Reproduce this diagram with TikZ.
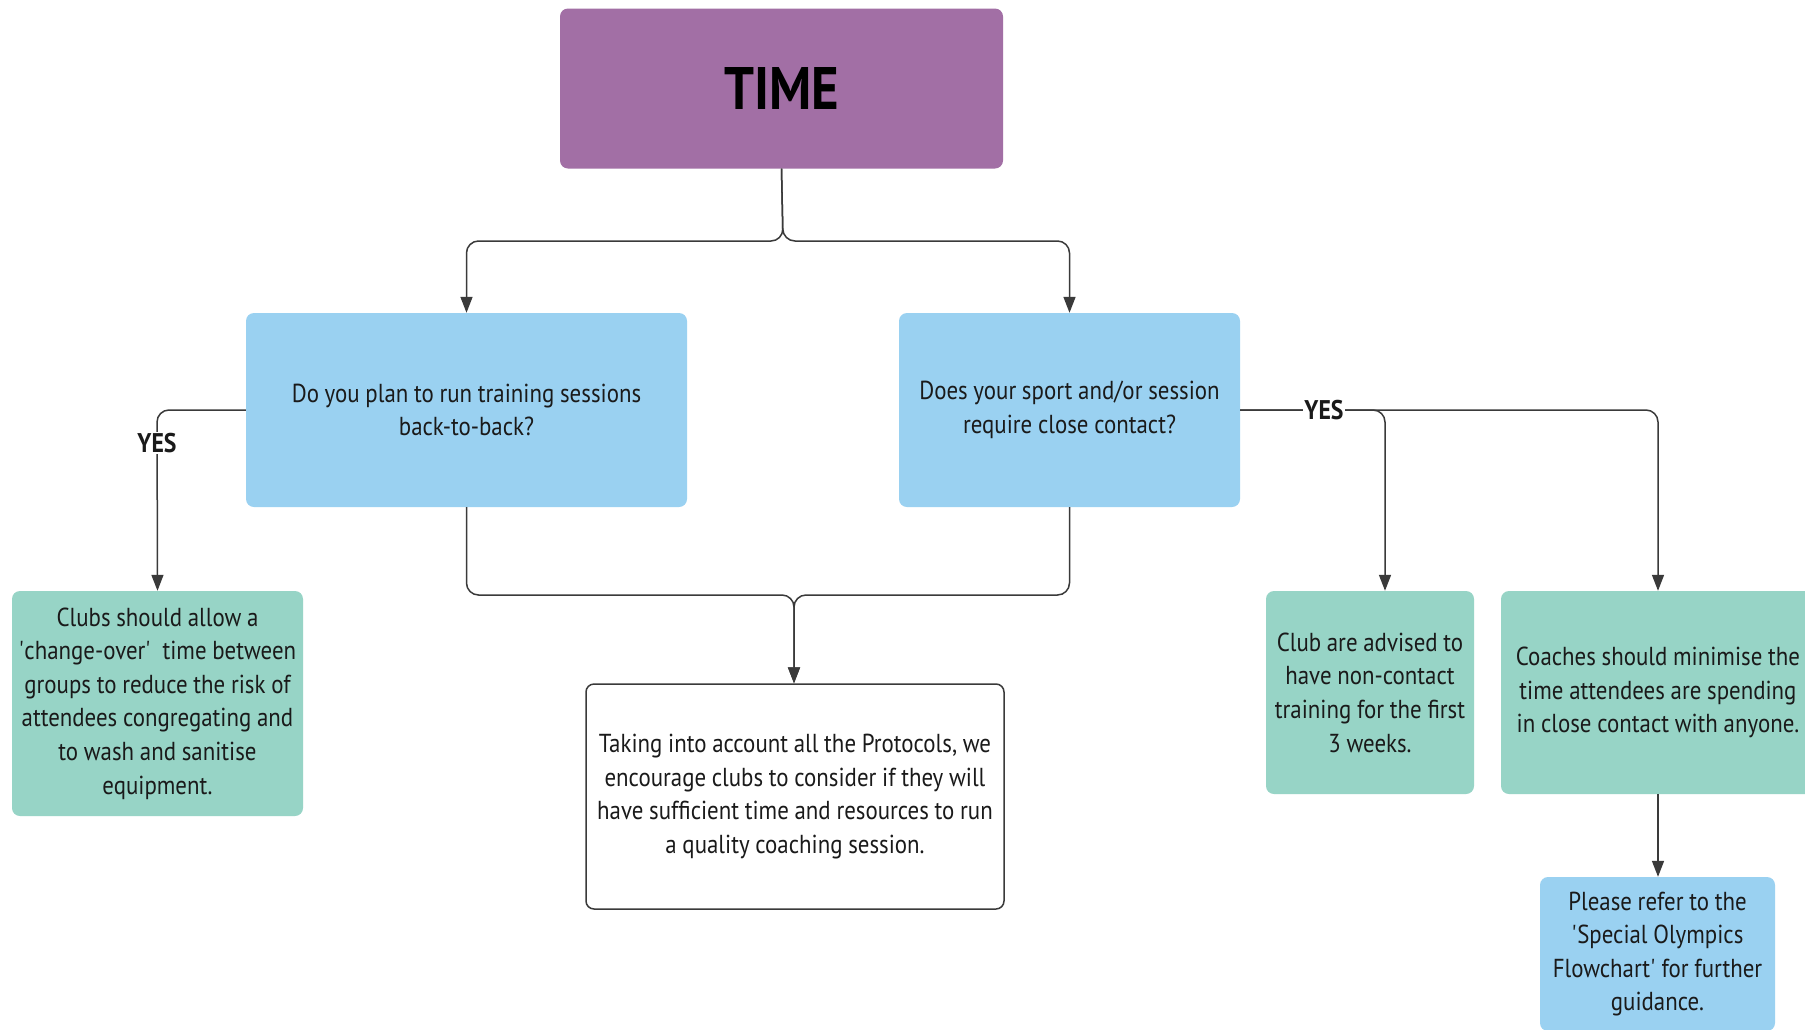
\documentclass[tikz,border=0pt]{standalone}
\usepackage{fontspec}
\setmainfont[FakeStretch=0.88]{PT Sans}
\usetikzlibrary{arrows.meta}
\definecolor{purp}{HTML}{A26FA5}
\definecolor{bluebx}{HTML}{9AD1F1}
\definecolor{greenbx}{HTML}{97D4C6}
\definecolor{linec}{HTML}{3A3A3A}
\definecolor{txt}{HTML}{1A1A1A}
\newcommand{\sq}{\textquotesingle}
\newcommand{\tightsp}{\spaceskip=0.22em\relax}
\tikzset{
  box/.style={rectangle, rounded corners=8pt, inner sep=4pt, align=center, text=txt,
    font=\fontsize{26}{33.6}\selectfont, execute at begin node=\tightsp},
  bluebox/.style={box, fill=bluebx},
  greenbox/.style={box, fill=greenbx},
  whitebox/.style={box, fill=white, draw=linec, line width=1.5pt},
  conn/.style={draw=linec, line width=1.5pt, rounded corners=12pt, -{Triangle[length=16pt,width=12pt]}},
  yeslab/.style={fill=white, inner sep=1pt, text=txt, font=\bfseries\fontsize{27}{30}\selectfont}
}
\begin{document}
\begin{tikzpicture}[x=1pt,y=-1pt]
\useasboundingbox[fill=white] (0,0) rectangle (1805,1029);
\begin{scope}
\clip (0,0) rectangle (1805,1029);
\node[box, fill=purp, minimum width=443pt, minimum height=160pt, font=\bfseries\fontsize{60}{70}\selectfont, text=black] (time) at (781.5,88.5) {TIME};
\node[bluebox, minimum width=441pt, minimum height=194pt, text width=420pt] (qL) at (466.5,410) {Do you plan to run training sessions\\back-to-back?};
\node[bluebox, minimum width=341pt, minimum height=194pt, text width=330pt] (qR) at (1069.5,410) {Does your sport and/or session\\require close contact?};
\node[greenbox, minimum width=291pt, minimum height=225pt, text width=283pt] (gL) at (157.5,703.5) {Clubs should allow a\\\sq change-over\sq\ \ time between\\groups to reduce the risk of\\attendees congregating and\\to wash and sanitise\\equipment.};
\node[whitebox, minimum width=418pt, minimum height=225pt, text width=410pt] (wB) at (795,796.5) {Taking into account all the Protocols, we\\encourage clubs to consider if they will\\have sufficient time and resources to run\\a quality coaching session.};
\node[greenbox, minimum width=208pt, minimum height=203pt, text width=200pt] (g2) at (1370,692.5) {Club are advised to\\have non-contact\\training for the first\\3 weeks.};
\node[greenbox, minimum width=314pt, minimum height=203pt, text width=306pt] (g3) at (1658,692.5) {Coaches should minimise the\\time attendees are spending\\in close contact with anyone.};
\node[bluebox, minimum width=235pt, minimum height=154pt, text width=227pt] (b4) at (1657.5,954) {Please refer to the\\\sq Special Olympics\\Flowchart\sq\ for further\\guidance.};

\coordinate (split) at (783,241);
\coordinate (merge) at (794,595);
\draw[conn] (time.south) -- (split) -| (qL.north);
\draw[conn] (time.south) -- (split) -| (qR.north);
\draw[conn] (qL.south) |- (merge) -- (wB.north -| merge);
\draw[conn] (qR.south) |- (merge) -- (wB.north -| merge);
\coordinate (lj) at (157,410);
\draw[conn] (qL.west) -- (lj) -- (gL.north);
\node[yeslab] (yesL) at (157,443) {YES};
\coordinate (rj) at (1385,410);
\draw[conn] (qR.east) -- (rj) -- (g2.north -| rj);
\draw[conn] (qR.east) -| (g3.north);
\node[yeslab] (yesR) at (1324,410) {YES};
\draw[conn] (g3.south) -- (b4.north -| g3.south);
\end{scope}
\end{tikzpicture}
\end{document}
